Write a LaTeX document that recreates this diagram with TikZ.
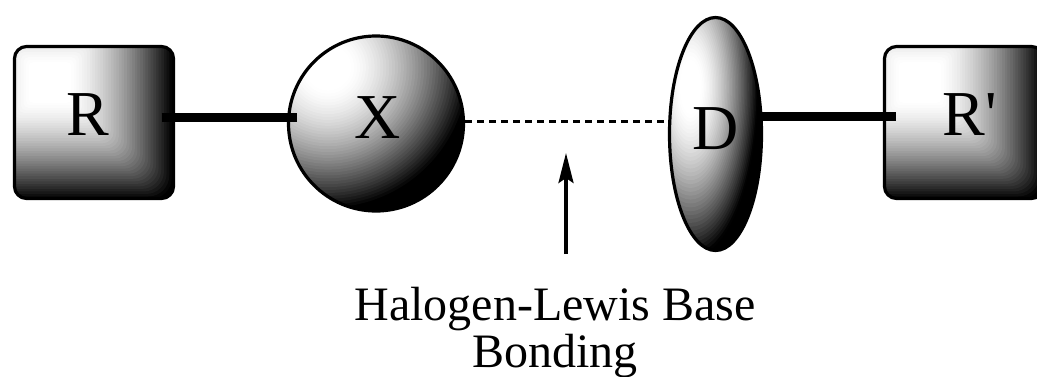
\documentclass[tikz,border=0pt]{standalone}
\usepackage{fontspec}
\setmainfont{Liberation Serif}
\usetikzlibrary{shapes.geometric,arrows.meta}
% concentric banded fill, centred on a highlight offset (#3,#4) from the shape centre
% #1,#2 half sizes of the shape, #5 spread factor
\newcommand\glowbox[5]{%
  \foreach \i in {60,59,...,1}{%
    \pgfmathsetmacro\u{\i/30}%
    \pgfmathsetmacro\v{min(1,max(0,(\u/#5-0.25)/1.3))}%
    \pgfmathsetmacro\g{100*(1-\v*sqrt(\v))}%
    \pgfmathsetmacro\w{\u*#1}\pgfmathsetmacro\h{\u*#2}\pgfmathsetmacro\rc{\u*14}%
    \fill[white!\g!black, rounded corners=\rc pt]
      ([shift={(#3-\w,#4-\h)}]path picture bounding box.center) rectangle
      ([shift={(#3+\w,#4+\h)}]path picture bounding box.center);
  }}
\newcommand\glowoval[5]{%
  \foreach \i in {60,59,...,1}{%
    \pgfmathsetmacro\u{\i/30}%
    \pgfmathsetmacro\v{min(1,max(0,(\u/#5-0.25)/1.3))}%
    \pgfmathsetmacro\g{100*(1-\v*sqrt(\v))}%
    \pgfmathsetmacro\w{\u*#1}\pgfmathsetmacro\h{\u*#2}%
    \fill[white!\g!black]
      ([shift={(#3,#4)}]path picture bounding box.center) ellipse [x radius=\w pt, y radius=\h pt];
  }}
\tikzset{
  obj/.style={draw=black, line width=3.2pt, inner sep=0pt, outer sep=0pt},
  boxobj/.style={obj, rectangle, rounded corners=12pt, minimum width=159pt, minimum height=152pt,
    path picture={\glowbox{79.5}{76}{-44}{-40}{1}}},
  ballobj/.style={obj, circle, minimum size=175pt,
    path picture={\glowoval{87.5}{87.5}{-48}{-56}{1.05}}},
  ellobj/.style={obj, ellipse, minimum width=92pt, minimum height=233pt,
    path picture={\glowoval{46}{116.5}{-25}{-47}{0.95}}},
  lbl/.style={font=\fontsize{64}{64}\selectfont, inner sep=0pt},
  bond/.style={line width=9pt},
  weak/.style={line width=3pt, dash pattern=on 7pt off 5pt},
  pointer/.style={line width=3.5pt, -{Stealth[length=30pt, width=15pt, inset=5pt]}},
  caption/.style={font=\fontsize{48}{47}\selectfont, align=center, inner sep=0pt}
}
\begin{document}
\begin{tikzpicture}[x=1pt,y=-1pt]
\useasboundingbox (0,0) rectangle (1037,376);
\node[boxobj, label={[lbl, xshift=-6pt, yshift=7.5pt]center:R}] (R) at (94,122.5) {};
\node[ballobj, label={[lbl, xshift=2pt, yshift=5.5pt]center:X}] (X) at (376,123.5) {};
\node[ellobj, label={[lbl, xshift=0.5pt, yshift=5pt]center:D}] (D) at (715.5,134) {};
\node[boxobj, label={[lbl, xshift=6pt, yshift=7.5pt]center:R\textquotesingle}] (R2) at (964,122.5) {};
\draw[bond] ([shift={(-12,-5.5)}]R.east) -- ([shift={(8.5,-6.5)}]X.west);
\draw[weak] ([shift={(1.5,-2.5)}]X.east) -- ([shift={(0,-13)}]D.west);
\draw[bond] ([shift={(-2,-18)}]D.east) -- ([shift={(11.5,-6.5)}]R2.west);
\node[caption, anchor=north] (cap) at (555,287) {Halogen-Lewis Base\\Bonding};
\coordinate (tip) at (566,153);
\draw[pointer, shorten <=33pt] (cap.north -| tip) -- (tip);
\end{tikzpicture}
\end{document}
